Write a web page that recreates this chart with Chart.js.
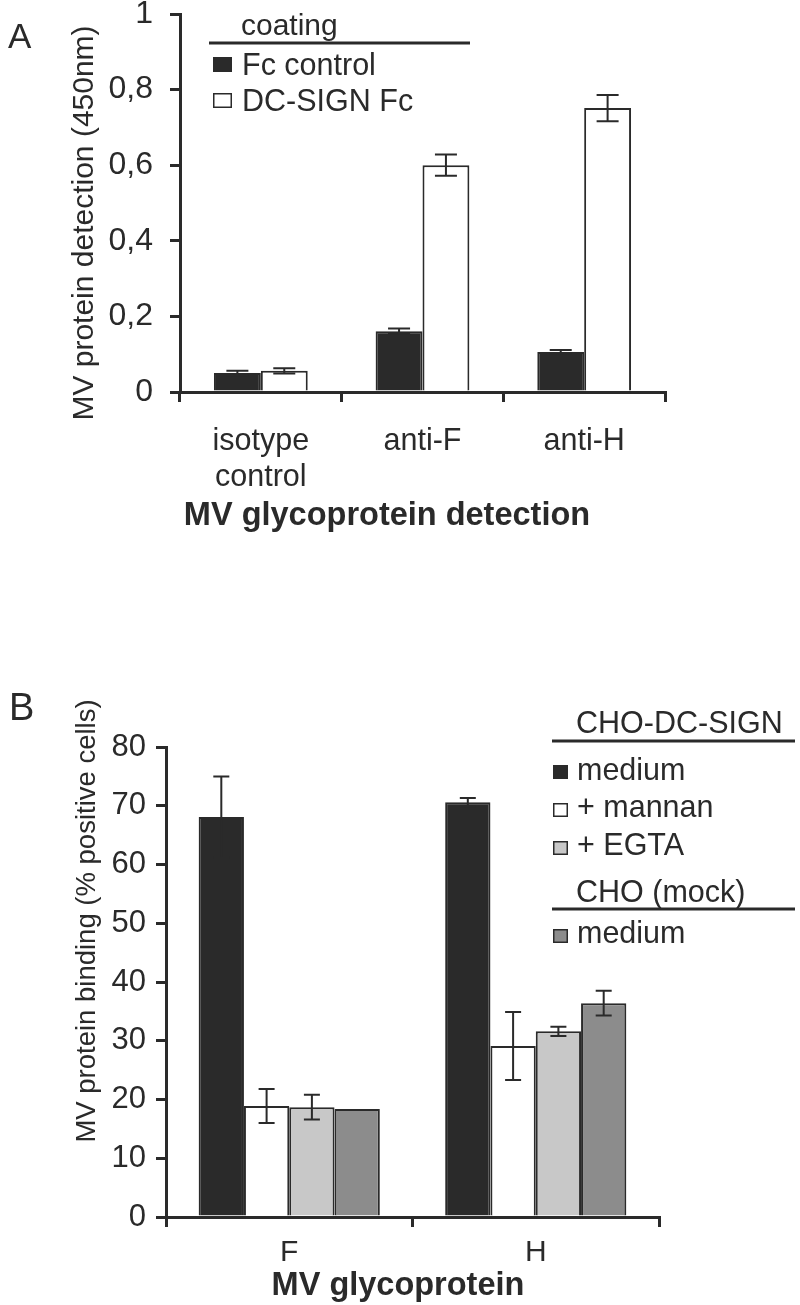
<!DOCTYPE html>
<html>
<head>
<meta charset="utf-8">
<script src="https://cdn.jsdelivr.net/npm/chart.js@4.4.1/dist/chart.umd.min.js"></script>
<style>
  body { margin: 0; background: #fff; width: 800px; height: 1305px; overflow: hidden; }
  .panel { position: absolute; left: 0; width: 800px; }
  #panelA { top: 0; height: 560px; }
  #panelB { top: 560px; height: 745px; }
</style>
</head>
<body>
<div class="panel" id="panelA"><canvas id="chartA" width="800" height="560"></canvas></div>
<div class="panel" id="panelB"><canvas id="chartB" width="800" height="745"></canvas></div>
<script>
// Panel A - ELISA
const aCategories = [['isotype', 'control'], 'anti-F', 'anti-H'];
const aFcControl = [0.050, 0.161, 0.106];
const aFcControlErr = [0.006, 0.007, 0.005];
const aDcSign = [0.056, 0.600, 0.751];
const aDcSignErr = [0.007, 0.028, 0.035];
const aTickLabels = ['0', '0,2', '0,4', '0,6', '0,8', '1'];

// Panel B - binding to cells
const bCategories = ['F', 'H'];
const bMedium = [68.1, 70.6];
const bMediumErr = [6.9, 0.7];
const bMannan = [18.9, 29.1];
const bMannanErr = [2.9, 5.8];
const bEgta = [18.7, 31.6];
const bEgtaErr = [2.1, 0.8];
const bMock = [18.4, 36.4];
const bMockErr = [0, 2.1];

const INK = '#2a2a2a';
const FONT = "'Liberation Sans', Arial, sans-serif";
Chart.defaults.font.family = FONT;
Chart.defaults.color = INK;

// error bars drawn from the y scale
const errorBars = {
  id: 'errorBars',
  afterDatasetsDraw(chart, args, opts) {
    const ctx = chart.ctx;
    const y = chart.scales.y;
    ctx.save();
    ctx.strokeStyle = INK;
    ctx.lineWidth = opts.lineWidth;
    opts.errors.forEach((errs, di) => {
      const meta = chart.getDatasetMeta(di);
      meta.data.forEach((bar, j) => {
        const e = errs[j];
        if (!e) return;
        const v = chart.data.datasets[di].data[j];
        const top = y.getPixelForValue(v + e);
        const bot = y.getPixelForValue(v - e);
        const h = opts.capWidth / 2;
        ctx.beginPath();
        ctx.moveTo(bar.x, top); ctx.lineTo(bar.x, bot);
        ctx.moveTo(bar.x - h, top); ctx.lineTo(bar.x + h, top);
        ctx.moveTo(bar.x - h, bot); ctx.lineTo(bar.x + h, bot);
        ctx.stroke();
      });
    });
    ctx.restore();
  }
};

// panel letter, axis titles, grouped legend
const decor = {
  id: 'decor',
  afterDraw(chart, args, opts) {
    const ctx = chart.ctx;
    ctx.save();
    ctx.fillStyle = INK;
    ctx.strokeStyle = INK;
    opts.texts.forEach(t => {
      ctx.save();
      ctx.font = (t.bold ? 'bold ' : '') + t.size + 'px ' + FONT;
      ctx.textAlign = t.align || 'left';
      ctx.textBaseline = 'alphabetic';
      ctx.translate(t.x, t.y);
      if (t.rotate) ctx.rotate(-Math.PI / 2);
      ctx.fillText(t.text, 0, 0);
      ctx.restore();
    });
    opts.lines.forEach(l => {
      ctx.lineWidth = l.w;
      ctx.beginPath();
      ctx.moveTo(l.x1, l.y);
      ctx.lineTo(l.x2, l.y);
      ctx.stroke();
    });
    opts.entries.forEach(en => {
      const ds = chart.data.datasets[en.ds];
      ctx.fillStyle = ds.backgroundColor;
      ctx.fillRect(en.x, en.y, en.w, en.h);
      ctx.lineWidth = 1.5;
      ctx.strokeRect(en.x + 0.75, en.y + 0.75, en.w - 1.5, en.h - 1.5);
      ctx.fillStyle = INK;
      ctx.font = en.size + 'px ' + FONT;
      ctx.textAlign = 'left';
      ctx.textBaseline = 'alphabetic';
      ctx.fillText(ds.label, en.tx, en.ty);
    });
    ctx.restore();
  }
};

function axisOpts(extra) {
  return Object.assign({
    grid: { display: true, drawOnChartArea: false, drawTicks: true, tickLength: 10, lineWidth: 3, color: INK },
    border: { display: true, width: 3, color: INK }
  }, extra);
}

new Chart(document.getElementById('chartA'), {
  type: 'bar',
  data: {
    labels: aCategories,
    datasets: [
      { label: 'Fc control', data: aFcControl, backgroundColor: INK, borderColor: INK, borderWidth: 2,
        categoryPercentage: 0.58, barPercentage: 1.0 },
      { label: 'DC-SIGN Fc', data: aDcSign, backgroundColor: '#ffffff', borderColor: INK, borderWidth: 2,
        categoryPercentage: 0.58, barPercentage: 1.0 }
    ]
  },
  options: {
    responsive: false,
    animation: false,
    layout: { padding: { left: 0, right: 135, top: 14, bottom: 0 } },
    plugins: {
      legend: { display: false },
      tooltip: { enabled: false },
      errorBars: { errors: [aFcControlErr, aDcSignErr], capWidth: 22, lineWidth: 2 },
      decor: {
        texts: [
          { text: 'A', x: 8, y: 48, size: 35 },
          { text: 'coating', x: 241, y: 35, size: 30 },
          { text: 'MV protein detection (450nm)', x: 93, y: 223, size: 30, align: 'center', rotate: true },
          { text: 'MV glycoprotein detection', x: 387, y: 525, size: 32.5, bold: true, align: 'center' }
        ],
        lines: [{ x1: 209, x2: 470, y: 43, w: 3 }],
        entries: [
          { ds: 0, x: 213, y: 57, w: 19, h: 15, tx: 242, ty: 75, size: 30.5 },
          { ds: 1, x: 213, y: 93, w: 19, h: 15, tx: 242, ty: 111, size: 30.5 }
        ]
      }
    },
    scales: {
      x: axisOpts({
        ticks: { font: { size: 30.5, lineHeight: 1.2 }, color: INK, padding: 21, maxRotation: 0, autoSkip: false },
        afterFit: s => { s.height = 168; }
      }),
      y: axisOpts({
        min: 0, max: 1,
        ticks: { stepSize: 0.2, font: { size: 32 }, color: INK, padding: 17,
          callback: (v, i) => aTickLabels[i] },
        afterFit: s => { s.width = 180; s.paddingTop = 0; s.paddingBottom = 0; }
      })
    }
  },
  plugins: [errorBars, decor]
});

new Chart(document.getElementById('chartB'), {
  type: 'bar',
  data: {
    labels: bCategories,
    datasets: [
      { label: 'medium', data: bMedium, backgroundColor: INK },
      { label: '+ mannan', data: bMannan, backgroundColor: '#ffffff' },
      { label: '+ EGTA', data: bEgta, backgroundColor: '#c8c8c8' },
      { label: 'medium', data: bMock, backgroundColor: '#8c8c8c' }
    ].map(d => Object.assign(d, { borderColor: INK, borderWidth: 2, categoryPercentage: 0.735, barPercentage: 1.0 }))
  },
  options: {
    responsive: false,
    animation: false,
    layout: { padding: { left: 0, right: 141, top: 187, bottom: 0 } },
    plugins: {
      legend: { display: false },
      tooltip: { enabled: false },
      errorBars: { errors: [bMediumErr, bMannanErr, bEgtaErr, bMockErr], capWidth: 16, lineWidth: 2 },
      decor: {
        texts: [
          { text: 'B', x: 9, y: 160, size: 38 },
          { text: 'CHO-DC-SIGN', x: 576, y: 173, size: 30.5 },
          { text: 'CHO (mock)', x: 576, y: 342, size: 30.5 },
          { text: 'MV protein binding (% positive cells)', x: 95, y: 361, size: 27.5, align: 'center', rotate: true },
          { text: 'MV glycoprotein', x: 398, y: 735, size: 32.5, bold: true, align: 'center' }
        ],
        lines: [
          { x1: 552, x2: 795, y: 181, w: 3 },
          { x1: 552, x2: 795, y: 349, w: 3 }
        ],
        entries: [
          { ds: 0, x: 553, y: 205, w: 15, h: 14, tx: 577, ty: 220, size: 30.5 },
          { ds: 1, x: 553, y: 243, w: 15, h: 14, tx: 577, ty: 257, size: 30.5 },
          { ds: 2, x: 553, y: 281, w: 15, h: 14, tx: 577, ty: 295, size: 30.5 },
          { ds: 3, x: 553, y: 369, w: 15, h: 14, tx: 577, ty: 383, size: 30.5 }
        ]
      }
    },
    scales: {
      x: axisOpts({
        ticks: { font: { size: 30 }, color: INK, padding: 8, maxRotation: 0, autoSkip: false },
        afterFit: s => { s.height = 88; }
      }),
      y: axisOpts({
        min: 0, max: 80,
        ticks: { stepSize: 10, font: { size: 31 }, color: INK, padding: 10 },
        afterFit: s => { s.width = 166; }
      })
    }
  },
  plugins: [errorBars, decor]
});
</script>
</body>
</html>
